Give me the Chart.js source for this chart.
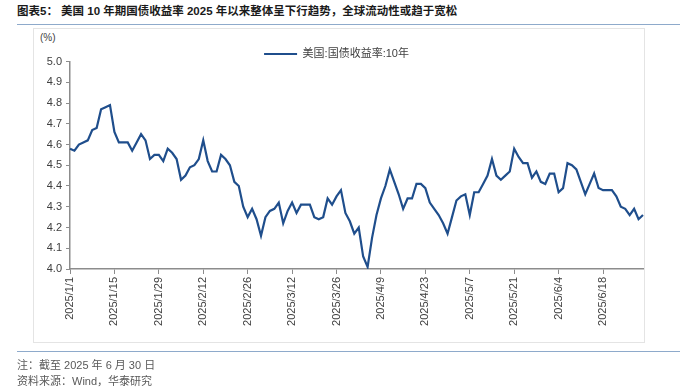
<!DOCTYPE html>
<html>
<head>
<meta charset="utf-8">
<script src="https://cdn.jsdelivr.net/npm/chart.js@4/dist/chart.umd.min.js"></script>
<style>
  body { margin: 0; background: #fff; font-family: "Liberation Sans", Arial, "Noto Sans CJK SC", sans-serif; }
  #wrap { position: relative; width: 696px; height: 391px; overflow: hidden; }
  #title { position: absolute; left: 17px; top: 2px; font-size: 11.5px; font-weight: bold; color: #1a1a1a; white-space: nowrap; }
  #ruleTop { position: absolute; left: 17px; top: 24px; width: 663px; height: 1px; background: #8eaacb; }
  #frame { position: absolute; left: 33px; top: 28px; width: 612px; height: 315px; border: 1px solid #e4e4e4; box-sizing: border-box; }
  #ruleBottom { position: absolute; left: 17px; top: 351px; width: 663px; height: 1px; background: #8eaacb; }
  #unit { position: absolute; left: 40px; top: 32px; font-size: 10px; color: #404040; }
  .note { position: absolute; left: 17px; font-size: 11px; color: #595959; white-space: nowrap; }
  canvas { position: absolute; left: 0; top: 0; }
</style>
</head>
<body>
<div id="wrap">
  <div id="title">图表5：&nbsp;美国 10 年期国债收益率 2025 年以来整体呈下行趋势，全球流动性或趋于宽松</div>
  <div id="ruleTop"></div>
  <div id="frame"></div>
  <div id="unit">(%)</div>
  <canvas id="yield10y" width="696" height="391"></canvas>
  <div id="ruleBottom"></div>
  <div class="note" style="top:356px">注：截至 2025 年 6 月 30 日</div>
  <div class="note" style="top:372px">资料来源：Wind，华泰研究</div>
</div>
<script>
// x categories: every weekday from 2025/1/1 to 2025/7/1
const dates = [];
for (let d = new Date(2025, 0, 1); d <= new Date(2025, 6, 1); d.setDate(d.getDate() + 1)) {
  if (d.getDay() === 0 || d.getDay() === 6) continue;
  dates.push(d.getFullYear() + "/" + (d.getMonth() + 1) + "/" + d.getDate());
}

const tickLabels = ["2025/1/1", "2025/1/15", "2025/1/29", "2025/2/12", "2025/2/26", "2025/3/12",
  "2025/3/26", "2025/4/9", "2025/4/23", "2025/5/7", "2025/5/21", "2025/6/4", "2025/6/18"];

const seriesName = "美国:国债收益率:10年";

// Jan
const yieldJan = [4.58, 4.57, 4.60, 4.61, 4.62, 4.67, 4.68, 4.77, 4.78, 4.79, 4.66, 4.61, 4.61, 4.61,
  4.57, 4.61, 4.65, 4.62, 4.53, 4.55, 4.55, 4.52, 4.58];
// Feb
const yieldFeb = [4.56, 4.53, 4.43, 4.45, 4.49, 4.50, 4.53, 4.62, 4.52, 4.47, 4.47, 4.55, 4.53, 4.50,
  4.42, 4.40, 4.30, 4.25, 4.29, 4.24];
// Mar
const yieldMar = [4.16, 4.25, 4.28, 4.29, 4.32, 4.22, 4.28, 4.32, 4.27, 4.31, 4.31, 4.31, 4.25, 4.24,
  4.25, 4.34, 4.31, 4.35, 4.38, 4.27, 4.23];
// Apr
const yieldApr = [4.17, 4.20, 4.06, 4.01, 4.15, 4.26, 4.34, 4.40, 4.48, 4.42, 4.36, 4.29, 4.34, 4.34,
  4.41, 4.41, 4.39, 4.32, 4.29, 4.26, 4.22, 4.17];
// May
const yieldMay = [4.25, 4.33, 4.35, 4.36, 4.26, 4.37, 4.37, 4.41, 4.45, 4.53, 4.45, 4.43, 4.45, 4.47,
  4.58, 4.54, 4.51, 4.51, 4.44, 4.47, 4.42, 4.41];
// Jun + Jul 1
const yieldJun = [4.46, 4.46, 4.37, 4.39, 4.51, 4.50, 4.48, 4.42, 4.36, 4.41, 4.46, 4.39, 4.38, 4.38,
  4.38, 4.35, 4.30, 4.29, 4.26, 4.29, 4.24, 4.26];

const yields = [...yieldJan, ...yieldFeb, ...yieldMar, ...yieldApr, ...yieldMay, ...yieldJun];

const yMin = 4.0;
const yMax = 5.0;
const yStep = 0.1;

const axisGray = "#8c8c8c";
const textGray = "#404040";
const fontFamily = '"Liberation Sans", Arial, "Noto Sans CJK SC", sans-serif';

new Chart(document.getElementById("yield10y"), {
  type: "line",
  data: {
    labels: dates,
    datasets: [
      {
        label: seriesName,
        data: yields,
        borderColor: "#1f4e8c",
        backgroundColor: "#1f4e8c",
        borderWidth: 2.2,
        pointRadius: 0,
        tension: 0,
        fill: false,
      },
    ],
  },
  options: {
    responsive: false,
    animation: false,
    layout: { padding: { left: 30, right: 53, top: 40.5, bottom: 52 } },
    plugins: {
      tooltip: { enabled: false },
      legend: {
        position: "top",
        maxHeight: 21,
        labels: {
          usePointStyle: true,
          pointStyle: "line",
          pointStyleWidth: 33,
          padding: 8,
          color: textGray,
          font: { size: 11, family: fontFamily },
        },
      },
    },
    scales: {
      x: {
        grid: { drawOnChartArea: false, drawTicks: true, tickLength: 5, color: axisGray },
        border: { color: axisGray, width: 1.5 },
        ticks: {
          autoSkip: false,
          minRotation: 90,
          maxRotation: 90,
          padding: 3,
          color: textGray,
          font: { size: 11, family: fontFamily },
          callback: function (v, i) {
            const d = dates[i];
            return tickLabels.includes(d) ? d : null;
          },
        },
        afterFit: function (s) { s.height = 70; },
      },
      y: {
        min: yMin,
        max: yMax,
        grid: { drawOnChartArea: false, drawTicks: true, tickLength: 4, color: axisGray },
        border: { color: axisGray, width: 1.5 },
        ticks: {
          stepSize: yStep,
          padding: 4,
          color: textGray,
          font: { size: 11, family: fontFamily },
          callback: (v) => v.toFixed(1),
        },
        afterFit: function (s) { s.width = 40; },
      },
    },
  },
});
</script>
</body>
</html>
